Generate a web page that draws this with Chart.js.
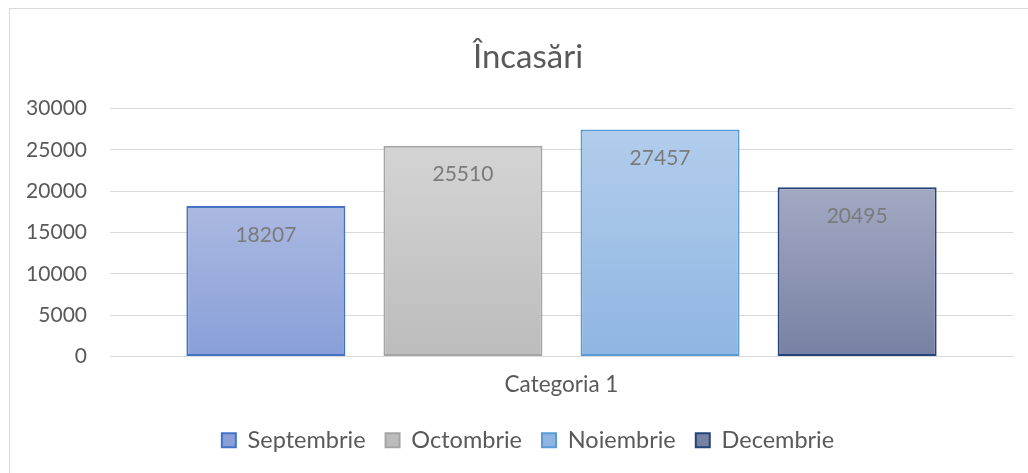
<!DOCTYPE html>
<html>
<head>
<meta charset="utf-8">
<script src="https://cdn.jsdelivr.net/npm/chart.js@4/dist/chart.umd.min.js"></script>
<style>
  html, body { margin: 0; padding: 0; background: #ffffff; overflow: hidden; width: 1028px; height: 473px; }
  #frame { position: absolute; left: 9px; top: 8px; width: 1040px; height: 470px; border-left: 1px solid #d9d9d9; border-top: 1px solid #d9d9d9; }
  canvas { display: block; }
</style>
</head>
<body>
<div id="frame"><canvas id="c" width="1036" height="470"></canvas></div>
<script>
// ---- data ----
const categories = ['Categoria 1'];
const seriesNames = ['Septembrie', 'Octombrie', 'Noiembrie', 'Decembrie'];
const septembrie = [18207];
const octombrie = [25510];
const noiembrie = [27457];
const decembrie = [20495];
const yMin = 0;
const yMax = 30000;
const yStep = 5000;
const titleText = 'Încasări';

// ---- styles ----
const gradTop = ['#abb9e1', '#d4d4d4', '#b2cdec', '#a3a9c3'];
const gradBottom = ['#889fd8', '#bcbcbc', '#8fb5e2', '#7781a3'];
const borders = ['#4472c4', '#a5a5a5', '#5b9bd5', '#264478'];
const textGray = '#595959';
const FONT = 'Lato, "Open Sans", sans-serif';

function makeFill(i) {
  return function (ctx) {
    const chart = ctx.chart;
    const ca = chart.chartArea;
    if (!ca || !chart.scales.y) return gradTop[i];
    const v = ctx.raw !== undefined ? ctx.raw : chart.data.datasets[i].data[0];
    const yTop = chart.scales.y.getPixelForValue(v);
    const yBot = chart.scales.y.getPixelForValue(0);
    const g = chart.ctx.createLinearGradient(0, yTop, 0, yBot);
    g.addColorStop(0, gradTop[i]);
    g.addColorStop(1, gradBottom[i]);
    return g;
  };
}

const seriesData = [septembrie, octombrie, noiembrie, decembrie];
const datasets = seriesNames.map((name, i) => ({
  label: name,
  data: seriesData[i],
  backgroundColor: makeFill(i),
  borderColor: borders[i],
  borderWidth: 2,
  borderSkipped: false,
  categoryPercentage: 0.873,
  barPercentage: 0.807
}));

const valueLabels = {
  id: 'valueLabels',
  afterDatasetsDraw(chart) {
    const ctx = chart.ctx;
    ctx.save();
    ctx.font = '21px ' + FONT;
    ctx.fillStyle = '#7b7b7b';
    ctx.textAlign = 'center';
    ctx.textBaseline = 'middle';
    chart.data.datasets.forEach((ds, i) => {
      const meta = chart.getDatasetMeta(i);
      meta.data.forEach((bar, j) => {
        ctx.fillText(String(ds.data[j]), bar.x, bar.y + 29);
      });
    });
    ctx.restore();
  }
};

Chart.defaults.font.family = FONT;
Chart.defaults.color = textGray;

new Chart(document.getElementById('c'), {
  type: 'bar',
  data: { labels: categories, datasets: datasets },
  options: {
    responsive: false,
    animation: false,
    layout: { padding: { left: 0, right: 0, top: 0, bottom: 17 } },
    plugins: {
      title: {
        display: true,
        text: titleText,
        color: textGray,
        font: { size: 33, weight: 'normal', family: FONT },
        padding: { top: 29, bottom: 31 }
      },
      legend: {
        position: 'bottom',
        labels: {
          color: textGray,
          font: { size: 23.5, family: FONT },
          boxWidth: 14,
          boxHeight: 14,
          padding: 20
        }
      },
      tooltip: { enabled: false }
    },
    scales: {
      x: {
        grid: { display: false, drawTicks: false },
        border: { display: true, color: '#d9d9d9' },
        ticks: { color: textGray, font: { size: 22.5 }, padding: 15 },
        afterFit(scale) { scale.height = 52; }
      },
      y: {
        min: yMin,
        max: yMax,
        grid: { color: '#d9d9d9', drawTicks: false },
        border: { display: false },
        ticks: {
          stepSize: yStep, color: textGray, font: { size: 21 }, padding: 23,
          callback: (v) => String(v)
        },
        afterFit(scale) { scale.width = 100; }
      },
      yRight: {
        position: 'right',
        display: true,
        grid: { display: false, drawTicks: false },
        border: { display: false },
        ticks: { display: false },
        afterFit(scale) { scale.width = 33; }
      }
    }
  },
  plugins: [valueLabels]
});
</script>
</body>
</html>
